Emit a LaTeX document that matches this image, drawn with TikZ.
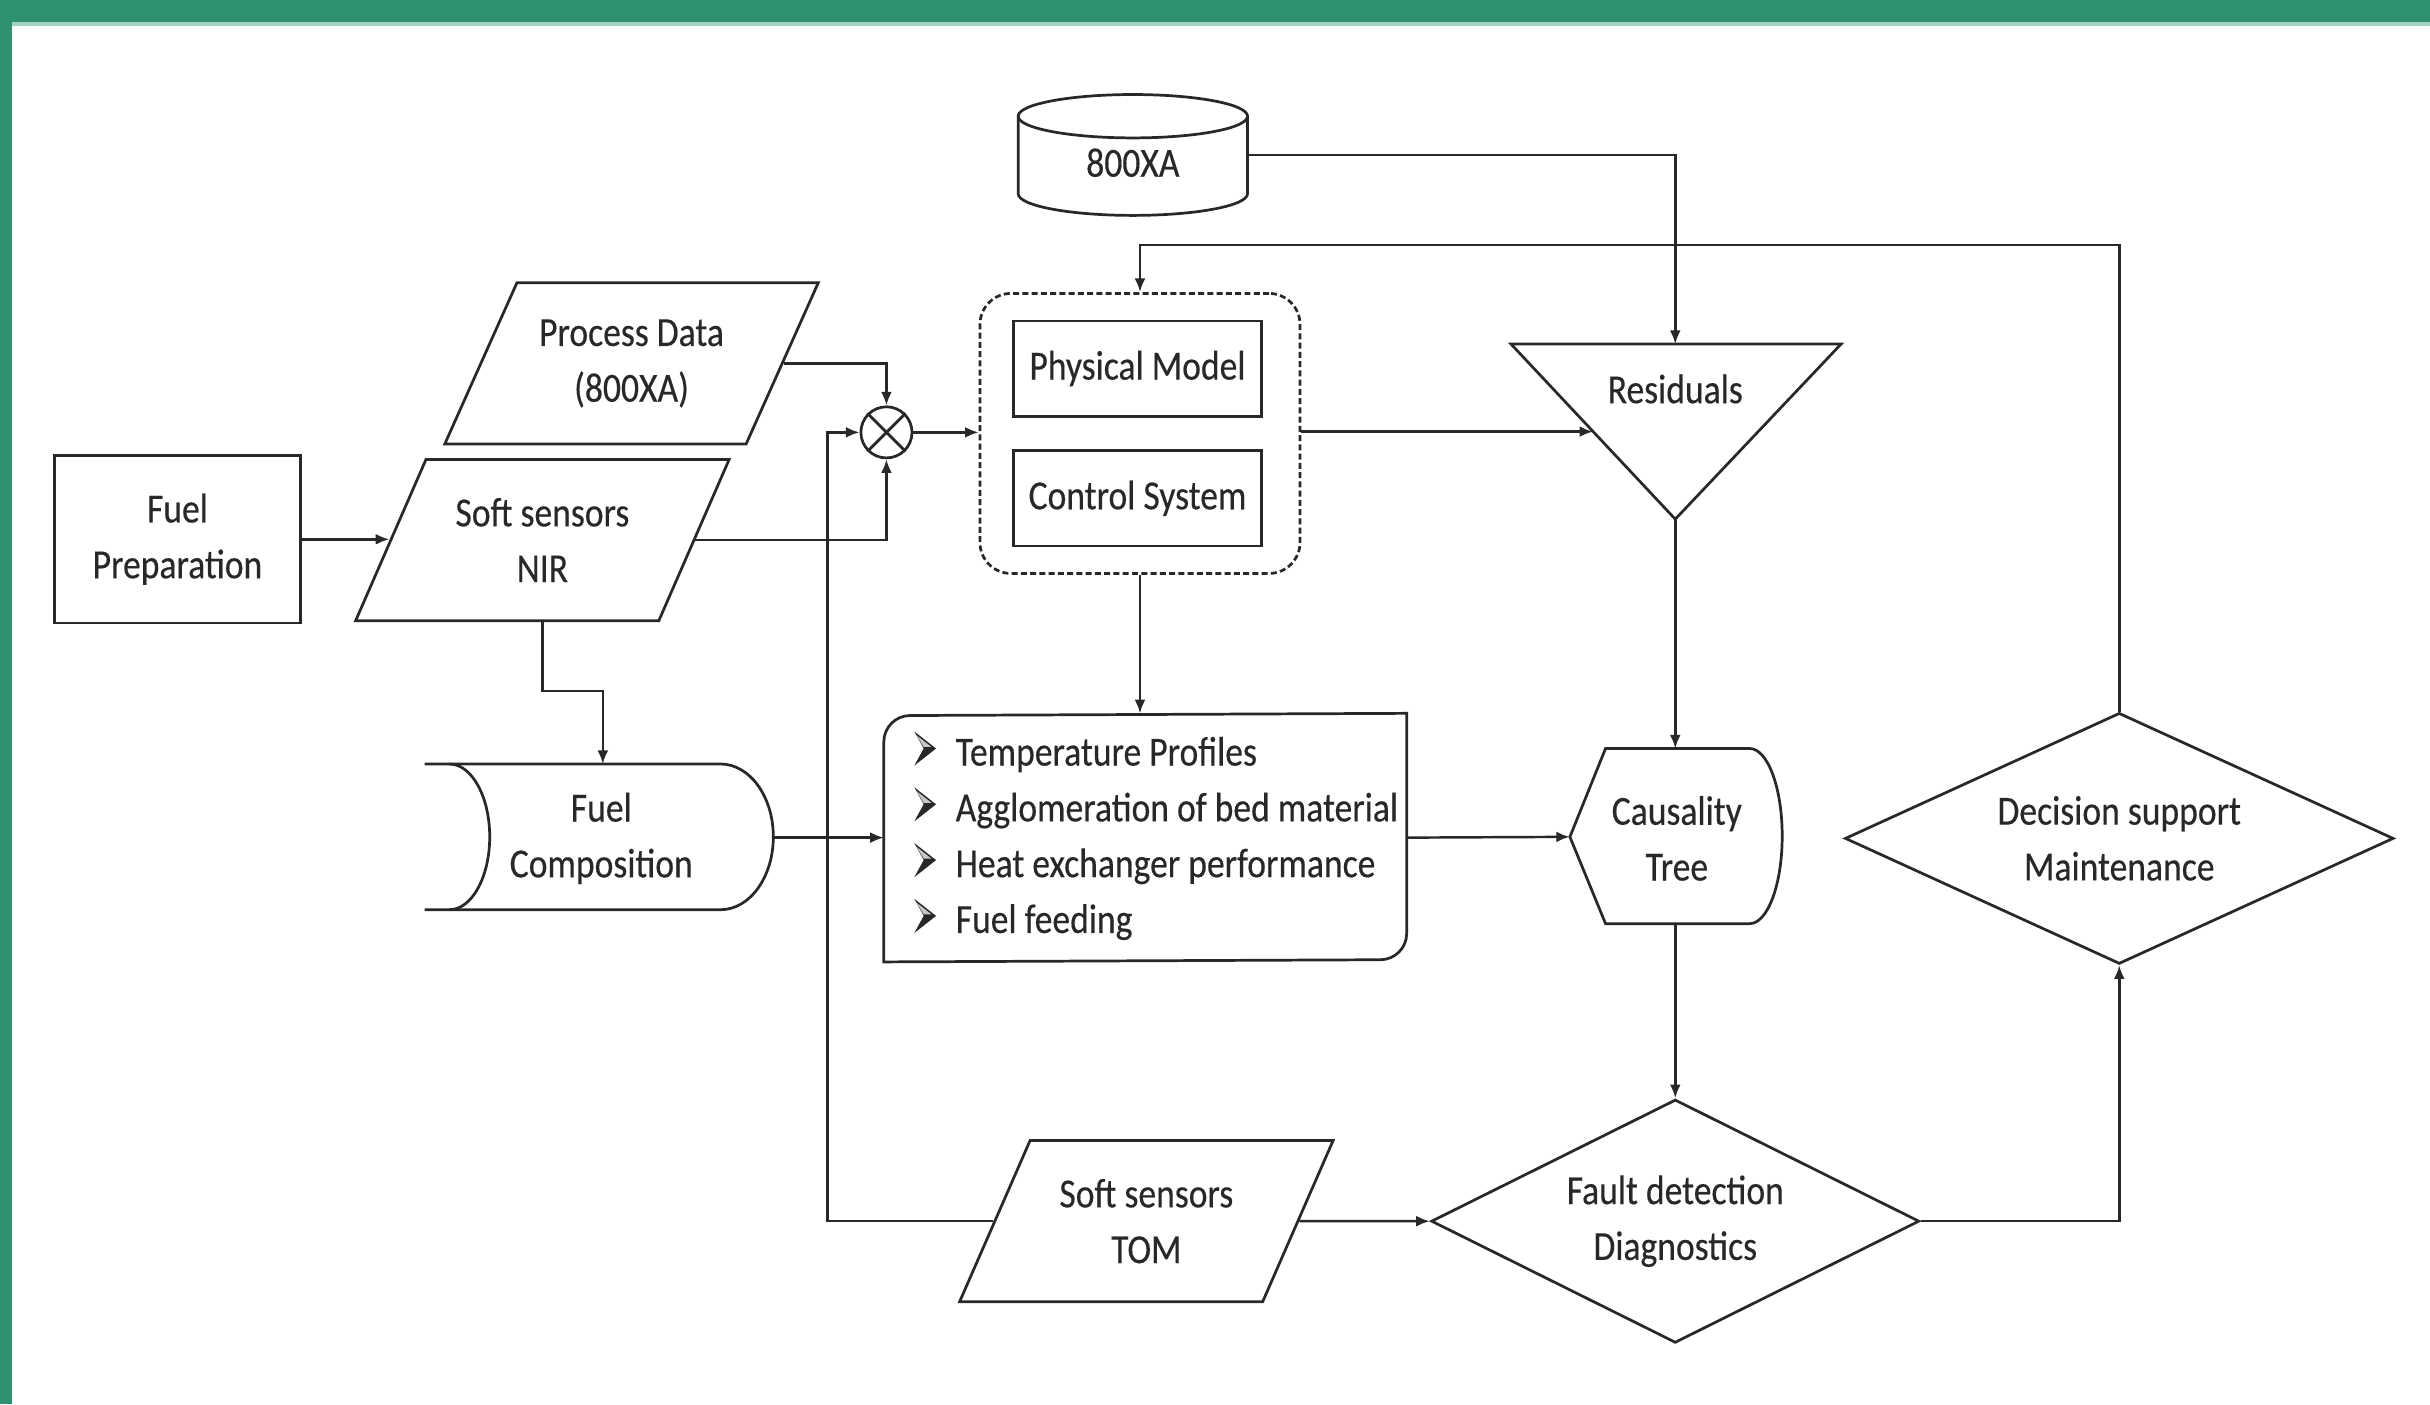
\documentclass[tikz,border=0pt]{standalone}
\usepackage{fontspec}
\setmainfont{Carlito}[FakeStretch = 0.86, FakeBold = 0.35]
\usetikzlibrary{shapes.geometric, arrows.meta, calc}

\definecolor{bargreen}{RGB}{46,145,112}
\definecolor{barline}{RGB}{160,212,192}
\definecolor{ink}{RGB}{40,40,40}

\tikzset{
	lineart/.style = {draw = ink, line width = 0.5pt},
	plainbox/.style = {lineart, rectangle, inner sep = 0pt, align = center},
	slanted/.style = {lineart, trapezium, trapezium left angle = 65, trapezium right angle = 115, trapezium stretches body,
		minimum width = 2.41cm, minimum height = 1.04cm, inner xsep = 0pt, inner ysep = 0.215cm, align = center},
	decision/.style = {lineart, diamond, aspect = 2, inner sep = 0pt, align = center},
	words/.style = {inner sep = 0pt, align = center},
	link/.style = {draw = ink, line width = 0.45pt, ->}
}

\begin{document}
\begin{tikzpicture}[x = 0.1mm, y = -0.1mm, > = {Latex[length = 2.5pt, width = 2pt]}, font = \fontsize{7.6pt}{10.24pt}\selectfont, text = ink]

	\useasboundingbox (0, 0) rectangle (1568, 906);

	% frame
	\fill [bargreen] (0, 0) rectangle (1568, 15);
	\fill [bargreen] (0, 0) rectangle (8, 906);
	\draw [barline, line width = 0.6pt] (8, 15.5) -- (1568, 15.5);

	% data source
	\draw [lineart, fill = white] (657, 75) -- (657, 125) arc [start angle = 180, end angle = 0, x radius = 74, y radius = 14] -- (805, 75);
	\draw [lineart] (731, 75) ellipse [x radius = 74, y radius = 14];
	\node [words] (xa) at (731, 105) {800XA};
	\coordinate (xa-out) at (805, 100);

	% inputs
	\node [plainbox, minimum width = 1.59cm, minimum height = 1.08cm] (prep) at (114.5, 348) {Fuel\\Preparation};
	\node [slanted] (proc) at (407.5, 234.5) {Process Data\\(800XA)};
	\node [slanted] (nir) at (350, 348.5) {Soft sensors\\NIR};
	\node [slanted] (tom) at (739.7, 788) {Soft sensors\\TOM};

	\node [lineart, circle, minimum size = 0.33cm, inner sep = 0pt] (mix) at (572, 279) {};
	\draw [lineart] (mix.north west) -- (mix.south east) (mix.north east) -- (mix.south west);

	% plant model
	\node [plainbox, dash pattern = on 1.1pt off 0.6pt, rounded corners = 2mm, minimum width = 2.065cm, minimum height = 1.807cm] (plant) at (735.6, 279.7) {};
	\node [plainbox, minimum width = 1.6cm, minimum height = 0.615cm] (phys) at (734, 237.8) {Physical Model};
	\node [plainbox, minimum width = 1.6cm, minimum height = 0.615cm] (ctrl) at (734, 321.5) {Control System};

	% residuals
	\coordinate (res-tl) at (975, 222);
	\coordinate (res-tr) at (1188, 222);
	\coordinate (res-apex) at (1081, 335);
	\draw [lineart] (res-tl) -- (res-tr) -- (res-apex) -- cycle;
	\node [words] (res) at (1081, 251) {Residuals};
	\coordinate (res-top) at (1081, 222);
	\coordinate (res-in) at ($(res-tl)!0.5!(res-apex)$);

	% fuel composition
	\draw [lineart] (274, 493) -- (465, 493) arc [start angle = -90, end angle = 90, x radius = 34, y radius = 47] -- (274, 587);
	\draw [lineart] (290, 493) arc [start angle = -90, end angle = 90, x radius = 26, y radius = 47];
	\node [words] (comp) at (388, 541) {Fuel\\Composition};
	\coordinate (comp-in) at (389, 493);
	\coordinate (comp-out) at (499, 540.5);

	% monitored quantities
	\node [minimum width = 3.36cm, minimum height = 1.59cm, inner sep = 0pt] (perf) at (739, 540.5) {};
	\draw [lineart] (perf.south west) -- ++(0, -142) arc [start angle = 180, end angle = 270, radius = 17] -- (perf.north east) -- ++(0, 142)
		arc [start angle = 0, end angle = 90, radius = 17] -- cycle;
	\foreach \entry [count = \i] in {Temperature Profiles, Agglomeration of bed material, Heat exchanger performance, Fuel feeding} {
		\begin{scope}[shift = {(0, 36 * \i - 36)}]
			\fill [ink] (590, 472) -- (604, 483) -- (590, 494) -- (596, 483) -- cycle;
			\fill [gray!45] (591.5, 474.5) -- (601, 482) -- (596, 482) -- cycle;
		\end{scope}
		\node [anchor = base west, inner sep = 0pt] (entry-\i) at (616, 458 + 36 * \i) {\entry};
	}

	% causality tree
	\draw [lineart] (1013, 540) -- (1036, 483) -- (1129, 483) arc [start angle = -90, end angle = 90, x radius = 21, y radius = 56.5] -- (1036, 596) -- cycle;
	\node [words] (tree) at (1082, 541) {Causality\\Tree};
	\coordinate (tree-in) at (1013, 540);
	\coordinate (tree-top) at (1081, 483);
	\coordinate (tree-bot) at (1081, 596);

	% decisions
	\node [decision, minimum width = 3.15cm, minimum height = 1.57cm] (fault) at (1081, 788) {Fault detection\\Diagnostics};
	\node [decision, minimum width = 3.54cm, minimum height = 1.62cm] (dec) at (1367.5, 541) {Decision support\\Maintenance};

	% connectors
	\draw [link] (xa-out) -| (res-top);
	\draw [link] (dec.north) -- (dec.north |- 0, 158) -| (plant.north);
	\draw [link] (proc.east) -| (mix.north);
	\draw [link] (nir.east) -| (mix.south);
	\draw [link] (prep.east) -- (prep.east -| nir.west);
	\draw [link] (mix.east) -- (mix.east -| plant.west);
	\draw [link] (plant.east |- res-in) -- (res-in);
	\draw [link] (plant.south) -- (plant.south |- perf.north);
	\draw [link] (nir.south) -- (nir.south |- 0, 446) -| (comp-in);
	\draw [link] (comp-out) -- (comp-out -| perf.west);
	\draw [link] (perf.east) -- (tree-in);
	\draw [link] (res-apex) -- (tree-top);
	\draw [link] (tree-bot) -- (fault.north);
	\draw [link] (tom.east) -- (fault.west);
	\draw [link] (tom.west) -- (tom.west -| 534, 0) |- (mix.west);
	\draw [link] (fault.east) -| (dec.south);

\end{tikzpicture}
\end{document}
